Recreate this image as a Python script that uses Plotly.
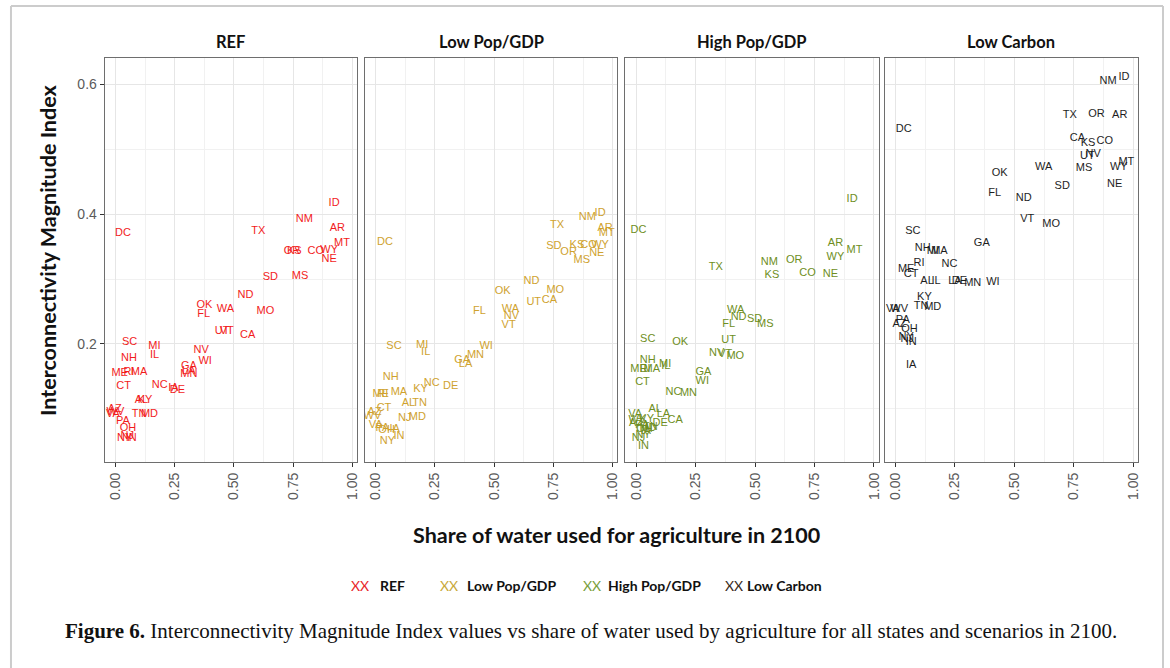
import plotly.graph_objects as go

W, H = 1170, 668

states = ["AL","AZ","AR","CA","CO","CT","DE","DC","FL","GA","ID","IL","IN","IA","KS","KY","LA",
          "ME","MD","MA","MI","MN","MS","MO","MT","NE","NV","NH","NJ","NM","NY","NC","ND","OH",
          "OK","OR","PA","RI","SC","SD","TN","TX","UT","VT","VA","WA","WV","WI","WY"]

scenarios = ["REF", "Low Pop/GDP", "High Pop/GDP", "Low Carbon"]

ref_x = [0.11,-0.003,0.937,0.558,0.846,0.035,0.262,0.032,0.373,0.310,0.923,0.165,0.067,0.245,0.755,0.125,0.31,
         0.018,0.144,0.10,0.165,0.310,0.779,0.633,0.956,0.902,0.362,0.057,0.05,0.797,0.039,0.187,0.549,0.053,
         0.376,0.745,0.032,0.057,0.060,0.654,0.10,0.603,0.45,0.47,-0.01,0.464,0.0,0.379,0.902]
ref_y = [0.113,0.100,0.378,0.214,0.343,0.135,0.128,0.371,0.246,0.166,0.417,0.183,0.055,0.132,0.343,0.113,0.158,
         0.155,0.092,0.156,0.197,0.154,0.305,0.250,0.356,0.330,0.190,0.178,0.058,0.392,0.055,0.136,0.275,0.070,
         0.259,0.343,0.081,0.156,0.202,0.303,0.092,0.374,0.219,0.219,0.092,0.254,0.095,0.173,0.345]

lowpop_x = [0.138,-0.005,0.968,0.733,0.898,0.035,0.316,0.039,0.438,0.365,0.947,0.211,0.098,0.08,0.849,0.189,0.379,
            0.021,0.176,0.098,0.196,0.421,0.870,0.758,0.975,0.933,0.573,0.063,0.122,0.893,0.049,0.236,0.657,0.046,
            0.536,0.814,0.028,0.03,0.077,0.752,0.185,0.765,0.667,0.561,0.0,0.568,-0.014,0.466,0.947]
lowpop_y = [0.108,0.095,0.378,0.268,0.353,0.101,0.135,0.357,0.251,0.175,0.402,0.187,0.058,0.068,0.353,0.130,0.168,
            0.122,0.087,0.125,0.198,0.182,0.329,0.283,0.370,0.340,0.242,0.148,0.085,0.396,0.050,0.139,0.297,0.067,
            0.282,0.342,0.070,0.122,0.196,0.350,0.108,0.383,0.265,0.229,0.074,0.253,0.088,0.197,0.352]

highpop_x = [0.080,0.0,0.838,0.164,0.721,0.027,0.101,0.010,0.389,0.283,0.908,0.125,0.031,0.04,0.571,0.045,0.115,
             0.010,0.05,0.066,0.122,0.220,0.543,0.417,0.918,0.817,0.339,0.049,0.010,0.560,0.03,0.157,0.431,0.035,
             0.185,0.665,0.025,0.038,0.049,0.498,0.06,0.335,0.389,0.375,-0.004,0.419,0.005,0.278,0.838]
highpop_y = [0.100,0.077,0.355,0.082,0.309,0.141,0.078,0.376,0.230,0.156,0.423,0.165,0.043,0.065,0.306,0.084,0.092,
             0.161,0.070,0.161,0.169,0.124,0.231,0.181,0.344,0.307,0.185,0.175,0.054,0.326,0.060,0.126,0.241,0.068,
             0.203,0.329,0.075,0.161,0.208,0.238,0.072,0.319,0.205,0.184,0.092,0.252,0.082,0.142,0.334]

lowcarb_x = [0.133,0.017,0.943,0.765,0.880,0.066,0.269,0.035,0.417,0.363,0.961,0.171,0.066,0.066,0.810,0.122,0.25,
             0.045,0.157,0.185,0.157,0.325,0.793,0.655,0.971,0.922,0.831,0.115,0.05,0.894,0.045,0.227,0.539,0.059,
             0.438,0.845,0.031,0.099,0.073,0.701,0.108,0.733,0.807,0.554,-0.011,0.623,0.016,0.410,0.939]
lowcarb_y = [0.297,0.230,0.552,0.517,0.512,0.307,0.297,0.531,0.433,0.356,0.612,0.297,0.203,0.167,0.509,0.272,0.297,
             0.316,0.256,0.343,0.343,0.293,0.471,0.385,0.481,0.446,0.493,0.347,0.207,0.605,0.210,0.323,0.424,0.223,
             0.463,0.554,0.237,0.325,0.374,0.444,0.258,0.553,0.490,0.393,0.253,0.473,0.253,0.295,0.473]

label_colors = ["#F21C1C", "#CFA22E", "#6E8E22", "#1E1E1E"]
legend_colors = ["#E8262B", "#C9A93A", "#7AA03C", "#3A2A22"]

xs = [ref_x, lowpop_x, highpop_x, lowcarb_x]
ys = [ref_y, lowpop_y, highpop_y, lowcarb_y]

# panel pixel geometry
panels_px = [(105, 358), (366, 619), (627, 881), (887, 1141)]
top_px, bot_px = 58, 462

fig = go.Figure()
for i in range(4):
    sfx = "" if i == 0 else str(i + 1)
    fig.add_trace(go.Scatter(
        x=xs[i], y=ys[i], text=states, mode="text",
        textposition="middle center",
        textfont=dict(family="Liberation Sans, Arial", size=11, color=label_colors[i]),
        xaxis="x" + sfx, yaxis="y" + sfx, showlegend=False, hoverinfo="skip"))

layout = dict(
    width=W, height=H, margin=dict(l=0, r=0, t=0, b=0),
    paper_bgcolor="white", plot_bgcolor="white", showlegend=False,
)
grid_major = "#E6E6E6"
grid_minor = "#F1F1F1"
for i, (l, r) in enumerate(panels_px):
    sfx = "" if i == 0 else str(i + 1)
    layout["xaxis" + sfx] = dict(
        domain=[l / W, r / W], anchor="y" + sfx, range=[-0.045, 1.02],
        tickvals=[0, 0.25, 0.5, 0.75, 1.0], ticktext=["0.00", "0.25", "0.50", "0.75", "1.00"],
        tickangle=-90, ticks="outside", ticklen=4, tickcolor="#333333",
        tickfont=dict(family="Liberation Sans, Arial", size=14, color="#5A5A5A"),
        showgrid=True, gridcolor=grid_major, gridwidth=1,
        minor=dict(tickvals=[0.125, 0.375, 0.625, 0.875], showgrid=True, gridcolor=grid_minor, gridwidth=1),
        showline=True, mirror=True, linecolor="#6E6E6E", linewidth=1.2, zeroline=False,
    )
    layout["yaxis" + sfx] = dict(
        domain=[1 - bot_px / H, 1 - top_px / H], anchor="x" + sfx, range=[0.018, 0.641],
        tickvals=[0.2, 0.4, 0.6], ticktext=["0.2", "0.4", "0.6"],
        ticks="outside", ticklen=4, tickcolor="#333333", showticklabels=(i == 0),
        tickfont=dict(family="Liberation Sans, Arial", size=14, color="#5A5A5A"),
        showgrid=True, gridcolor=grid_major, gridwidth=1,
        minor=dict(tickvals=[0.1, 0.3, 0.5], showgrid=True, gridcolor=grid_minor, gridwidth=1),
        showline=True, mirror=True, linecolor="#6E6E6E", linewidth=1.2, zeroline=False,
    )
    if i > 0:
        layout["yaxis" + sfx]["ticks"] = ""

annotations = []
for i, (l, r) in enumerate(panels_px):
    annotations.append(dict(
        x=(l + r) / 2 / W, y=1 - 42 / H, xref="paper", yref="paper", text="<b>%s</b>" % scenarios[i],
        showarrow=False, font=dict(family="Lato", size=16.5, color="#111111"), xanchor="center", yanchor="middle"))

annotations.append(dict(
    x=48 / W, y=1 - 250 / H, xref="paper", yref="paper", text="<b>Interconnectivity Magnitude Index</b>",
    textangle=-90, showarrow=False, font=dict(family="Lato", size=21.5, color="#111111"),
    xanchor="center", yanchor="middle"))
annotations.append(dict(
    x=618 / W, y=1 - 535 / H, xref="paper", yref="paper",
    text="<b>Share of water used for agriculture in 2100</b>",
    showarrow=False, font=dict(family="Lato", size=21.5, color="#111111"), xanchor="center", yanchor="middle"))

legend_pos = [(350, 379), (439, 466), (582, 608), (725, 747)]
for i, (xx, tx) in enumerate(legend_pos):
    annotations.append(dict(
        x=xx / W, y=1 - 585 / H, xref="paper", yref="paper", text="XX", showarrow=False,
        font=dict(family="Lato", size=14, color=legend_colors[i]), xanchor="left", yanchor="middle"))
    annotations.append(dict(
        x=tx / W, y=1 - 585 / H, xref="paper", yref="paper", text="<b>%s</b>" % scenarios[i], showarrow=False,
        font=dict(family="Lato", size=14, color="#111111"), xanchor="left", yanchor="middle"))

annotations.append(dict(
    x=63 / W, y=1 - 631 / H, xref="paper", yref="paper",
    text="<b>Figure 6.</b> Interconnectivity Magnitude Index values vs share of water used by agriculture for all states and scenarios in 2100.",
    showarrow=False, font=dict(family="Liberation Serif", size=21, color="#111111"),
    xanchor="left", yanchor="middle"))

layout["annotations"] = annotations
layout["shapes"] = [
    dict(type="line", xref="paper", yref="paper", x0=11 / W, x1=11 / W, y0=0, y1=1 - 6 / H,
         line=dict(color="#CCCCCC", width=2)),
    dict(type="line", xref="paper", yref="paper", x0=11 / W, x1=1166 / W, y0=1 - 6 / H, y1=1 - 6 / H,
         line=dict(color="#CCCCCC", width=2)),
    dict(type="line", xref="paper", yref="paper", x0=1166 / W, x1=1166 / W, y0=0, y1=1 - 6 / H,
         line=dict(color="#CCCCCC", width=2)),
]

fig.update_layout(**layout)
fig.write_html("out.html", config={"displayModeBar": False},
               post_script="document.body.style.margin='0';document.body.style.overflow='hidden';")
